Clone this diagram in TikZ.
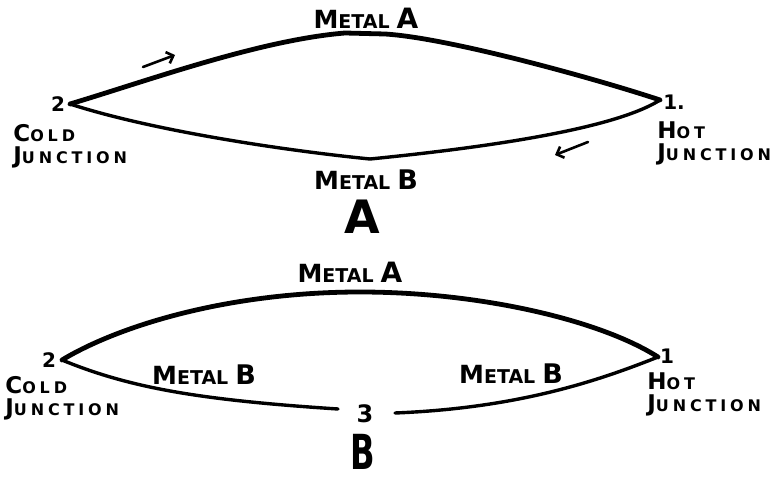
\documentclass[tikz,border=0pt]{standalone}
\usepackage{fontspec}
\usetikzlibrary{arrows.meta,positioning}
\newfontfamily\handfont{DejaVu Sans}
\newfontfamily\handfontsp[LetterSpace=24]{DejaVu Sans}
% hand lettered small caps: big first letter, smaller rest
\newcommand{\capsm}[2]{{\fontsize{11.5}{11}\selectfont #1}#2}
\newcommand{\caplg}[2]{{\fontsize{12.5}{13}\selectfont #1}{\fontsize{9.5}{11}\selectfont #2}}

\begin{document}
\begin{tikzpicture}[x=0.5pt,y=-0.5pt,
  wire/.style={line width=2.4pt, line cap=round, line join=round},
  thinwire/.style={line width=1.7pt, line cap=round, line join=round},
  flow/.style={line width=1.3pt, line cap=round, -{Straight Barb[length=3pt,width=6pt]}},
  metal/.style={font=\handfont\bfseries, inner sep=0pt},
  junc/.style={font=\handfontsp\bfseries\fontsize{8}{11}\selectfont, inner sep=0pt, align=left, anchor=north west},
  num/.style={font=\handfont\bfseries\fontsize{10}{12}\selectfont, inner sep=0pt},
  big/.style={font=\handfont\bfseries\fontsize{23}{26}\selectfont, inner sep=0pt}]
\path[use as bounding box, fill=white] (0,0) rectangle (782,481);

% --- figure A ---
\coordinate (coldA) at (70,104);
\coordinate (hotA) at (660,100);
\coordinate (peakA) at (345,33);
\coordinate (lowA) at (370,159);

\draw[wire] (coldA) .. controls (150,80) and (260,40) .. (peakA)
  -- (385,34) .. controls (450,38) and (600,80) .. (hotA);
\draw[thinwire] (coldA) .. controls (150,130) and (280,150) .. (lowA)
  .. controls (460,150) and (610,132) .. (hotA);

\coordinate (fwdS) at (143,67);
\coordinate (fwdE) at (175,55);
\coordinate (backS) at (588,142);
\coordinate (backE) at (555,155);
\draw[flow] (fwdS) -- (fwdE);
\draw[flow] (backS) -- (backE);

\node[metal] (metalAtop) at (366,18) {\caplg{M}{ETAL}~{\fontsize{14}{14}\selectfont A}};
\node[metal] (metalAbot) at (366,180) {\caplg{M}{ETAL}~{\fontsize{13.5}{14}\selectfont B}};
\node[big] (figA) at (362,217) {A};

\node[num] (numtwoA) at (58,104) {2};
\node[num] (numoneA) at (674,102) {1.};
\node[junc] (coldlblA) at (13,124) {\capsm{C}{OLD}\\\capsm{J}{UNCTION}};
\node[junc] (hotlblA) at (657,121) {\capsm{H}{OT}\\\capsm{J}{UNCTION}};

% --- figure B ---
\coordinate (coldB) at (62,360);
\coordinate (hotB) at (658,357);
\coordinate (peakB) at (360,292);
\coordinate (gapL) at (338,409);
\coordinate (gapR) at (395,413);

\draw[wire] (coldB) .. controls (120,325) and (230,292) .. (peakB)
  .. controls (480,292) and (600,320) .. (hotB);
\draw[thinwire] (coldB) .. controls (130,388) and (200,400) .. (gapL);
\draw[thinwire] (gapR) .. controls (520,408) and (600,380) .. (hotB);

\node[metal] (metalBtop) at (350,272) {\caplg{M}{ETAL}~{\fontsize{14}{14}\selectfont A}};
\node[metal] (metalBleft) at (204,375) {\caplg{M}{ETAL}~{\fontsize{13.5}{14}\selectfont B}};
\node[metal] (metalBright) at (511,374) {\caplg{M}{ETAL}~{\fontsize{13.5}{14}\selectfont B}};

\node[num] (numtwoB) at (49,360) {2};
\node[num] (numoneB) at (667,356) {1};
\node[num, font=\handfont\bfseries\fontsize{12}{14}\selectfont] (numthree) at (365,414) {3};
\node[big] (figB) at (363,452) {\scalebox{0.7}[1.05]{B}};

\node[junc] (coldlblB) at (5,376) {\capsm{C}{OLD}\\\capsm{J}{UNCTION}};
\node[junc] (hotlblB) at (647,372) {\capsm{H}{OT}\\\capsm{J}{UNCTION}};
\end{tikzpicture}
\end{document}
